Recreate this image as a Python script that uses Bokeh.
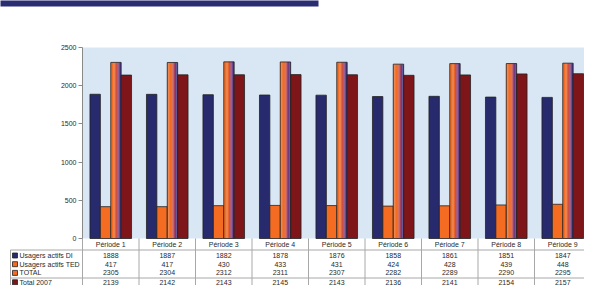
import numpy as np
from bokeh.plotting import figure
from bokeh.models import Range1d, LinearAxis, FixedTicker
from bokeh.core.properties import value
from bokeh.embed import file_html
from bokeh.resources import INLINE

# ---- data ----
periods = ["Période 1", "Période 2", "Période 3", "Période 4", "Période 5",
           "Période 6", "Période 7", "Période 8", "Période 9"]
series_names = ["Usagers actifs DI", "Usagers actifs TED", "TOTAL", "Total 2007"]
usagers_di = [1888, 1887, 1882, 1878, 1876, 1858, 1861, 1851, 1847]
usagers_ted = [417, 417, 430, 433, 431, 424, 428, 439, 448]
total = [2305, 2304, 2312, 2311, 2307, 2282, 2289, 2290, 2295]
total_2007 = [2139, 2142, 2143, 2145, 2143, 2136, 2141, 2154, 2157]
y_ticks = [0, 500, 1000, 1500, 2000, 2500]

series = [usagers_di, usagers_ted, total, total_2007]

# ---- geometry helpers (figure pixels -> data) ----
W, H = 584, 285
cw = 56.5                      # px per category cell
X0 = 82                        # px of x=0 (axis)
YTOP, YBOT = 47, 238           # px of 2500 / 0
k = 2500 / (YBOT - YTOP)
def px(x):
    return (x - X0) / cw
def py(y):
    return (YBOT - y) * k

NAVY = "#272a6d"
ORANGE = "#f36c21"
DARKRED = "#7e1518"
GRID = "#a8a8a8"
TXT = "#2a2a2a"
FONT = value("Liberation Sans")
FS = "7px"

p = figure(width=W, height=H, output_backend="svg", toolbar_location=None,
           x_range=Range1d(px(0), px(W)), y_range=Range1d(py(H), py(0)),
           x_axis_location=None, y_axis_location=None,
           min_border=0, outline_line_color=None,
           background_fill_color="white", border_fill_color="white")
p.grid.visible = False

n = len(periods)
idx = np.arange(n)
xend = px(W) + 0.2

# top decorative band
p.quad(left=[px(-2)], right=[px(318)], bottom=[py(6)], top=[py(-2)],
       fill_color="#2b2d73", line_color=None)

# plot background
p.quad(left=[0], right=[xend], bottom=[0], top=[2500],
       fill_color="#d9e7f5", line_color=None)

# bars
bw = 0.184
offsets = [-1.5 * bw, -0.5 * bw, 0.5 * bw, 1.5 * bw]
centers = idx + 0.5
p.vbar(x=centers + offsets[0], top=usagers_di, width=bw, fill_color=NAVY,
       line_color="#222222", line_width=0.8)
p.vbar(x=centers + offsets[1], top=usagers_ted, width=bw, fill_color=ORANGE,
       line_color="#222222", line_width=0.8)
# TOTAL with horizontal gradient (orange -> purple), drawn as thin strips
strip_cols = [ORANGE, ORANGE, ORANGE, "#ea6427", "#cc5045", "#a04368", "#6e3a80", "#43367f"]
ns = len(strip_cols)
sw = bw / ns
for j, c in enumerate(strip_cols):
    p.vbar(x=centers + offsets[2] - bw / 2 + sw * (j + 0.5), top=total, width=sw * 1.05,
           fill_color=c, line_color=None)
p.vbar(x=centers + offsets[2], top=total, width=bw, fill_color=None,
       line_color="#222222", line_width=0.8)
p.vbar(x=centers + offsets[3], top=total_2007, width=bw, fill_color=DARKRED,
       line_color="#222222", line_width=0.8)

# y axis inside the frame at x=0
ax = LinearAxis(fixed_location=0, bounds=(0, 2500), ticker=FixedTicker(ticks=y_ticks),
                axis_line_color="#8a8a8a", major_tick_line_color="#8a8a8a",
                major_tick_out=4, major_tick_in=0, minor_tick_line_color=None,
                major_label_text_font="Liberation Sans", major_label_text_font_size=FS,
                major_label_text_color=TXT, major_label_standoff=2)
p.add_layout(ax, "left")

# ---- data table ----
row_header = py(244)
line_top = py(249.5)
rows_y = [py(255), py(263.7), py(272.4), py(281.8)]
line_mid = py(277.5)
bottom = py(H) - 50
x_left = px(10)

# grid lines
p.segment(x0=list(idx[1:]) + [0], y0=[0] * n, x1=list(idx[1:]) + [0], y1=[bottom] * n,
          line_color=GRID, line_width=1)
p.segment(x0=[x_left, x_left, x_left], y0=[line_top, line_top, line_mid],
          x1=[x_left, xend, xend], y1=[bottom, line_top, line_mid],
          line_color=GRID, line_width=1)

# header labels
p.text(x=centers, y=[row_header] * n, text=periods, text_align="center",
       text_baseline="middle", text_font=FONT, text_font_size=FS, text_color=TXT)

# values
for vals, yy in zip(series, rows_y):
    p.text(x=centers, y=[yy] * n, text=[str(v) for v in vals], text_align="center",
           text_baseline="middle", text_font=FONT, text_font_size=FS, text_color=TXT)

# legend swatches + names
sw_cols = [NAVY, ORANGE, ORANGE, DARKRED]
p.scatter(x=[px(14.5)] * 4, y=rows_y, marker="square", size=5,
          fill_color=sw_cols, line_color="#222222", line_width=0.8)
p.text(x=[px(19)] * 4, y=rows_y, text=series_names, text_align="left",
       text_baseline="middle", text_font=FONT, text_font_size=FS, text_color=TXT)

open("out.html", "w").write(file_html(p, INLINE))
